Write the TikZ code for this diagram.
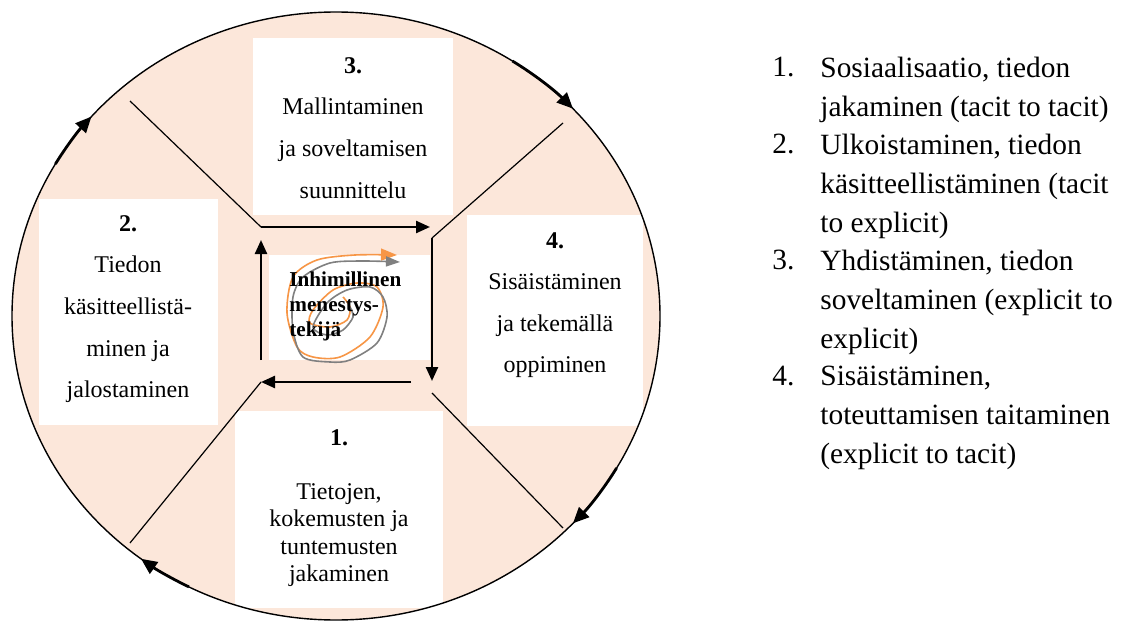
\documentclass[tikz,border=0pt]{standalone}
\usepackage{fontspec}
\setmainfont{Liberation Serif}
\usetikzlibrary{
    arrows.meta,
    calc,
    fit,
    positioning
}
\definecolor{peach}{RGB}{252,231,218}
\definecolor{scrorange}{RGB}{247,150,70}
\definecolor{scrgray}{RGB}{128,128,128}

\begin{document}
\begin{tikzpicture}[x=0.5pt, y=-0.5pt, >={Triangle[length=7pt, width=6pt]},
    pbox/.style={fill=white, inner sep=0pt},
    ptext/.style={align=center, anchor=north, inner sep=0pt, font=\fontsize{12}{20.8}\selectfont},
    flow/.style={line width=1.2pt, ->},
    spoke/.style={line width=0.6pt},
    rimarrow/.style={line width=1.4pt, ->, >={Triangle[length=8pt, width=7pt]}},
    listtext/.style={anchor=north west, align=left, inner sep=0pt, font=\fontsize{14.7}{19.3}\selectfont}]
                        \useasboundingbox (0,0) rectangle (1121,621);
                        % the wheel
                        \coordinate (o) at (336,316);
                        \fill[peach] (o) ellipse[x radius=324, y radius=304];
                        % boxes of the four phases
                        \node (b3) [pbox, fit={(253,38) (453,215)}] {};
                        \node (b2) [pbox, fit={(39,199) (218,425)}] {};
                        \node (b4) [pbox, fit={(467,215) (643,426)}] {};
                        \node (b1) [pbox, fit={(235,411) (443,608)}] {};
                        \node (t3) [ptext] at (353,57) {\textbf{3.}\\Mallintaminen\\ja soveltamisen\\suunnittelu};
                        \node (t2) [ptext] at (128,215) {\textbf{2.}\\Tiedon\\käsitteellistä-\\minen ja\\jalostaminen};
                        \node (t4) [ptext] at (555,232) {\textbf{4.}\\Sisäistäminen\\ja tekemällä\\oppiminen};
                        \node (t1) [ptext, font=\fontsize{12}{13.7}\selectfont] at (339,429) {\textbf{1.}\\[13.3pt]Tietojen,\\kokemusten ja\\tuntemusten\\jakaminen};
                        % inner frame
                        \coordinate (tl) at (261,227);
                        \coordinate (tr) at (430,227);
                        \coordinate (rt) at (432,238);
                        \coordinate (rb) at (432,381);
                        \coordinate (bcr) at (432,393);
                        \coordinate (br) at (411,382);
                        \coordinate (bl) at (261,382);
                        \coordinate (lb) at (261,360);
                        \coordinate (lt) at (261,240);
                        \coordinate (s1) at (130,101);
                        \coordinate (s2) at (563,123);
                        \coordinate (s3) at (563,528);
                        \coordinate (s4) at (130,543);
                        \draw[spoke] (s1) -- (tl);
                        \draw[spoke] (s2) -- (rt);
                        \draw[spoke] (s3) -- (bcr);
                        \draw[spoke] (s4) -- (bl);
                        \draw
                        (tl) edge[flow] (tr)
                        (rt) edge[flow] (rb)
                        (br) edge[flow] (bl)
                        (lb) edge[flow] (lt);
                        % rim and its arrows
                        \draw[line width=0.7pt] (o) ellipse[x radius=324, y radius=304];
                        \draw[rimarrow] ($(o)+(-150:324 and 304)$) arc[start angle=-150, end angle=-139, x radius=324, y radius=304];
                        \draw[rimarrow] ($(o)+(-57:324 and 304)$) arc[start angle=-57, end angle=-43, x radius=324, y radius=304];
                        \draw[rimarrow] ($(o)+(30:324 and 304)$) arc[start angle=30, end angle=43, x radius=324, y radius=304];
                        \draw[rimarrow] ($(o)+(117:324 and 304)$) arc[start angle=117, end angle=127, x radius=324, y radius=304];
                        % centre
                        \node (core) [pbox, fit={(269,255) (430,360)}] {};
                        \draw[scrorange, line width=0.8pt, ->, >={Triangle[length=8pt, width=6pt]}] plot[smooth] coordinates {(343,297) (350,307) (347,320) (330,327) (310,323) (313,310) (333,290) (357,283) (377,287) (383,307) (370,337) (340,357) (313,357) (297,347) (287,313) (293,277) (317,260) (355,255) (397,255)};
                        \draw[scrgray, line width=0.8pt, ->, >={Triangle[length=7pt, width=5pt]}] plot[smooth] coordinates {(350,307) (353,317) (343,330) (327,335) (313,327) (327,303) (347,290) (370,287) (383,297) (387,317) (377,343) (350,360) (330,362) (303,357) (293,330) (293,297) (303,277) (330,263) (362,261) (400,262)};
                        \node (coretext) [anchor=north west, align=left, inner sep=0pt, font=\fontsize{10.6}{12.5}\selectfont\bfseries] at (289,271) {Inhimillinen\\menestys-\\tekijä};
                        % list of the four modes
                        \node (n1) [listtext] at (772,57) {1.};
                        \node (i1) [listtext] at (820,57) {Sosiaalisaatio, tiedon\\jakaminen (tacit to tacit)};
                        \node (n2) [listtext] at (772,134) {2.};
                        \node (i2) [listtext] at (820,134) {Ulkoistaminen, tiedon\\käsitteellistäminen (tacit\\to explicit)};
                        \node (n3) [listtext] at (772,250) {3.};
                        \node (i3) [listtext] at (820,250) {Yhdistäminen, tiedon\\soveltaminen (explicit to\\explicit)};
                        \node (n4) [listtext] at (772,366) {4.};
                        \node (i4) [listtext] at (820,366) {Sisäistäminen,\\toteuttamisen taitaminen\\(explicit to tacit)};
                    \end{tikzpicture}
\end{document}
